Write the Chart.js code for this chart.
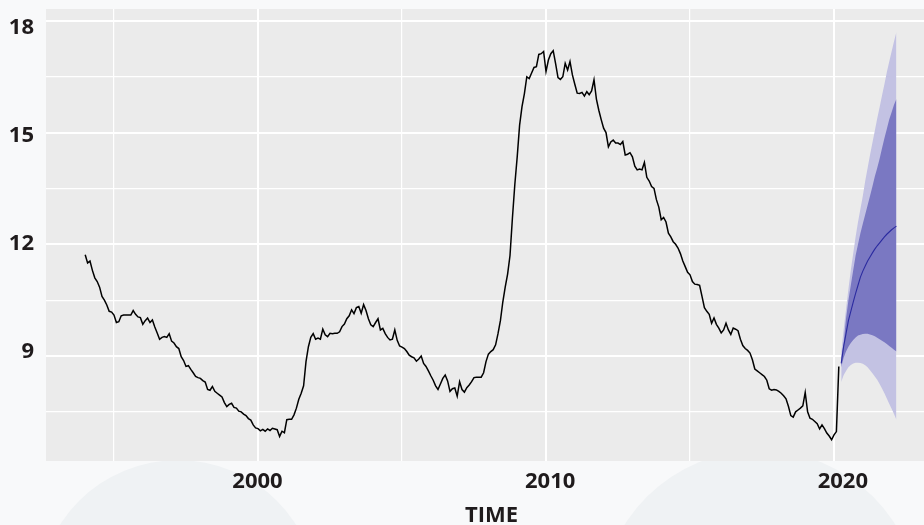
<!DOCTYPE html>
<html>
<head>
<meta charset="utf-8">
<script src="https://cdn.jsdelivr.net/npm/chart.js@4.4.1/dist/chart.umd.min.js"></script>
<style>
  html, body { margin:0; padding:0; background:#f8f9fa; overflow:hidden; }
  #wrap { width:924px; height:525px; overflow:hidden; }
  canvas { display:block; }
</style>
</head>
<body>
<div id="wrap"><canvas id="c" width="942" height="525"></canvas></div>
<script>
/* série mensal observada: jan/1994 .. mar/2020 */
const startYear = 1994;
const hist = [
  11.72,11.50,11.55,11.30,11.10,11.00,10.85,10.60,10.50,10.37,10.20,10.18, // 1994
  10.10, 9.90, 9.92,10.08,10.10,10.10,10.10,10.10,10.22,10.12,10.05,10.03, // 1995
   9.85, 9.95,10.02, 9.90, 9.97, 9.78, 9.62, 9.45, 9.50, 9.52, 9.50, 9.60, // 1996
   9.40, 9.35, 9.25, 9.20, 8.98, 8.88, 8.72, 8.74, 8.64, 8.55, 8.45, 8.42, // 1997
   8.40, 8.34, 8.30, 8.10, 8.08, 8.18, 8.05, 8.00, 7.95, 7.90, 7.75, 7.64, // 1998
   7.70, 7.73, 7.62, 7.60, 7.52, 7.50, 7.44, 7.40, 7.32, 7.28, 7.15, 7.07, // 1999
   7.05, 6.99, 7.03, 6.98, 7.04, 7.00, 7.06, 7.04, 7.02, 6.84, 6.98, 6.94, // 2000
   7.29, 7.30, 7.30, 7.42, 7.60, 7.84, 8.00, 8.20, 8.85, 9.25, 9.50, 9.60, // 2001
   9.45, 9.48, 9.45, 9.72, 9.57, 9.52, 9.61, 9.60, 9.61, 9.61, 9.65, 9.79, // 2002
   9.86,10.00,10.08,10.24,10.14,10.30,10.33,10.15,10.38,10.22,10.00, 9.84, // 2003
   9.79, 9.90,10.00, 9.70, 9.74, 9.60, 9.50, 9.43, 9.45, 9.70, 9.42, 9.27, // 2004
   9.24, 9.20, 9.12, 9.02, 8.98, 8.95, 8.86, 8.92, 9.00, 8.80, 8.72, 8.60, // 2005
   8.47, 8.35, 8.20, 8.10, 8.25, 8.40, 8.49, 8.33, 8.05, 8.12, 8.14, 7.92, // 2006
   8.31, 8.10, 8.03, 8.15, 8.22, 8.31, 8.42, 8.43, 8.43, 8.43, 8.55, 8.85, // 2007
   9.05, 9.12, 9.17, 9.30, 9.60, 9.95,10.45,10.85,11.20,11.70,12.70,13.60, // 2008
  14.35,15.20,15.70,16.05,16.50,16.45,16.60,16.75,16.77,17.10,17.12,17.18, // 2009
  16.64,16.95,17.12,17.20,16.85,16.48,16.43,16.50,16.86,16.68,16.91,16.55, // 2010
  16.30,16.06,16.05,16.08,15.98,16.10,16.02,16.12,16.42,15.90,15.60,15.35, // 2011
  15.12,15.00,14.62,14.75,14.80,14.72,14.72,14.68,14.76,14.40,14.42,14.46, // 2012
  14.35,14.10,14.00,14.02,14.00,14.20,13.80,13.70,13.55,13.50,13.20,13.00, // 2013
  12.66,12.72,12.60,12.30,12.20,12.07,12.00,11.90,11.75,11.55,11.40,11.25, // 2014
  11.18,11.00,10.93,10.92,10.90,10.60,10.30,10.20,10.12, 9.88,10.02, 9.85, // 2015
   9.75, 9.62, 9.70, 9.88, 9.70, 9.58, 9.75, 9.72, 9.68, 9.45, 9.28, 9.20, // 2016
   9.15, 9.08, 8.90, 8.65, 8.60, 8.55, 8.50, 8.45, 8.35, 8.12, 8.08, 8.10, // 2017
   8.09, 8.05, 8.00, 7.93, 7.85, 7.65, 7.40, 7.36, 7.50, 7.55, 7.60, 7.66, // 2018
   8.02, 7.50, 7.33, 7.30, 7.24, 7.18, 7.04, 7.15, 7.05, 6.93, 6.85, 6.75, // 2019
   6.88, 6.97, 8.72                                                        // 2020
];

/* previsão mensal: abr/2020 .. mar/2022 */
const fcStart = 2020 + 3/12;
const fcMean = [ 8.80, 9.25, 9.60, 9.95,10.20,10.45,10.68,10.90,11.12,11.28,11.42,11.55,
                11.66,11.77,11.87,11.96,12.04,12.12,12.20,12.27,12.33,12.39,12.44,12.49];
const fcHi95 = [ 9.10, 9.70,10.25,10.80,11.30,11.75,12.20,12.60,12.95,13.30,13.70,14.05,
                14.40,14.73,15.05,15.38,15.68,16.00,16.30,16.62,16.90,17.18,17.45,17.70];
const fcHi80 = [ 8.95, 9.35,10.00,10.50,10.90,11.30,11.70,12.00,12.30,12.55,12.80,13.05,
                13.30,13.55,13.82,14.05,14.30,14.58,14.85,15.10,15.35,15.55,15.75,15.90];
const fcLo80 = [ 8.70, 8.95, 9.12, 9.25, 9.35, 9.43, 9.50, 9.55, 9.57, 9.59, 9.60, 9.60,
                 9.58, 9.56, 9.53, 9.49, 9.45, 9.41, 9.37, 9.32, 9.27, 9.22, 9.17, 9.12];
const fcLo95 = [ 8.30, 8.48, 8.60, 8.70, 8.76, 8.80, 8.82, 8.82, 8.81, 8.79, 8.75, 8.70,
                 8.62, 8.54, 8.45, 8.36, 8.25, 8.13, 8.00, 7.86, 7.72, 7.58, 7.44, 7.29];

const xTicks = [2000, 2010, 2020];
const xGrid  = [1995, 2000, 2005, 2010, 2015, 2020];
const yTicks = [9, 12, 15, 18];
const yGrid  = [7.5, 9, 10.5, 12, 13.5, 15, 16.5, 18];

const pts  = (arr, t0) => arr.map((v, i) => ({ x: t0 + i / 12, y: v }));
const FONT = { family: "'Open Sans', 'DejaVu Sans', sans-serif", size: 22, weight: 'bold' };
const INK  = '#1f1b1c';

/* fundo: painel cinza e marca d'água clarinha */
const backdrop = {
  id: 'backdrop',
  beforeDraw(chart) {
    const { ctx, chartArea: a } = chart;
    ctx.save();
    ctx.fillStyle = '#f8f9fa';
    ctx.fillRect(0, 0, chart.width, chart.height);
    ctx.fillStyle = '#eff2f4';
    ctx.beginPath(); ctx.arc(178, 600, 140, 0, Math.PI * 2); ctx.fill();
    ctx.beginPath(); ctx.arc(760, 610, 160, 0, Math.PI * 2); ctx.fill();
    ctx.fillStyle = '#f6f7f9';
    ctx.beginPath(); ctx.arc(760, 610, 85, 0, Math.PI * 2); ctx.fill();
    ctx.fillStyle = '#ebebeb';
    ctx.fillRect(a.left, a.top, a.right - a.left, a.bottom - a.top);
    ctx.restore();
  }
};

const band = (data, color, order) => ({
  data, borderWidth: 0, pointRadius: 0, backgroundColor: color, order
});

/* eixos só de rótulo: sem margens automáticas */
const noPad = s => { s.paddingTop = 0; s.paddingBottom = 0; s.paddingLeft = 0; s.paddingRight = 0; };

new Chart(document.getElementById('c'), {
  type: 'line',
  data: {
    datasets: [
      { data: pts(hist, startYear), borderColor: '#000', borderWidth: 1.5,
        pointRadius: 0, tension: 0, fill: false, order: 0 },
      band(pts(fcLo95, fcStart), 'transparent', 3),
      { ...band(pts(fcHi95, fcStart), '#c3c2e3', 3), fill: '-1' },
      band(pts(fcLo80, fcStart), 'transparent', 2),
      { ...band(pts(fcHi80, fcStart), '#7a78c2', 2), fill: '-1' },
      { data: pts(fcMean, fcStart), borderColor: '#2b2ba0', borderWidth: 1.1,
        pointRadius: 0, tension: 0, fill: false, order: 1 }
    ]
  },
  options: {
    responsive: false,
    animation: false,
    layout: { padding: { top: 9, right: 5, left: 0, bottom: 0 } },
    plugins: { legend: { display: false }, tooltip: { enabled: false } },
    scales: {
      x: {
        type: 'linear', position: 'bottom', min: 1992.639, max: 2023.576,
        afterBuildTicks: s => { s.ticks = xGrid.map(v => ({ value: v })); },
        afterFit: s => { s.height = 0; noPad(s); },
        ticks: { display: false },
        border: { display: false },
        grid: { color: '#ffffff', drawTicks: false,
                lineWidth: c => (c.tick && c.tick.value % 10 === 0) ? 2 : 1.2 }
      },
      xl: {
        type: 'linear', position: 'bottom', min: 1992.773, max: 2023.219,
        afterBuildTicks: s => { s.ticks = xTicks.map(v => ({ value: v })); },
        afterFit: s => { s.height = 64; noPad(s); },
        grid: { display: false, drawTicks: false },
        border: { display: false },
        ticks: { color: INK, font: FONT, padding: 8, maxRotation: 0, callback: v => String(v) },
        title: { display: true, text: 'TIME', color: INK,
                 font: { ...FONT, lineHeight: 0.82 }, padding: { top: 0, bottom: 0 } }
      },
      y: {
        type: 'linear', position: 'left', min: 6.18, max: 18.32,
        afterBuildTicks: s => { s.ticks = yGrid.map(v => ({ value: v })); },
        afterFit: s => { s.width = 0; noPad(s); },
        ticks: { display: false },
        border: { display: false },
        grid: { color: '#ffffff', drawTicks: false,
                lineWidth: c => (c.tick && yTicks.includes(c.tick.value)) ? 2 : 1.2 }
      },
      yl: {
        type: 'linear', position: 'left', min: 5.958, max: 18.514,
        afterBuildTicks: s => { s.ticks = yTicks.map(v => ({ value: v })); },
        afterFit: s => { s.width = 46; noPad(s); },
        grid: { display: false, drawTicks: false },
        border: { display: false },
        ticks: { color: INK, font: FONT, padding: 12, callback: v => String(v) }
      }
    }
  },
  plugins: [backdrop]
});
</script>
</body>
</html>
